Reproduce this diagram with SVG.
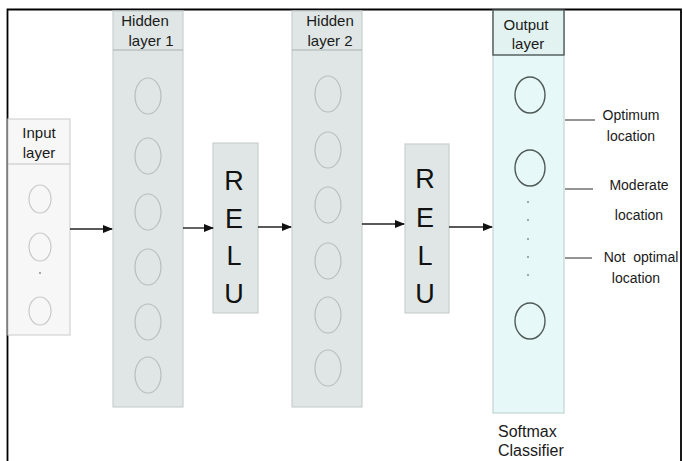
<svg xmlns="http://www.w3.org/2000/svg" width="683" height="461" viewBox="0 0 683 461">
  <style>
    text { font-family: "Liberation Sans", Arial, sans-serif; fill: #1a1a1a; }
    .hdr { font-size: 15px; text-anchor: middle; }
    .lbl { font-size: 14px; text-anchor: middle; }
    .relu { font-size: 27px; text-anchor: middle; fill: #111; }
    .frame { fill: none; stroke: #000; stroke-width: 1.8; }
    .in-box { fill: #f7f7f7; stroke: #d2d2d2; stroke-width: 1.2; }
    .in-node { fill: #f7f7f7; stroke: #c8c8c8; stroke-width: 1.2; }
    .hid-box { fill: #dfe6e5; stroke: #c9d0cf; stroke-width: 1.2; }
    .hid-sep { stroke: #a9b2b1; stroke-width: 1.2; }
    .hid-node { fill: #dfe6e5; stroke: #b6bfbe; stroke-width: 1.2; }
    .out-box { fill: #e6f8f7; stroke: #c3d6d3; stroke-width: 1.2; }
    .out-hdr { fill: #e2f2f1; stroke: #4d5856; stroke-width: 1.4; }
    .out-node { fill: #e6f8f7; stroke: #4f5a58; stroke-width: 1.4; }
    .dot { fill: #7a8584; }
    .edge { stroke: #222; stroke-width: 1.4; fill: none; marker-end: url(#head); }
    .tick { stroke: #666; stroke-width: 1.4; }
  </style>
  <defs>
    <marker id="head" markerWidth="10" markerHeight="8" refX="9" refY="4" orient="auto" markerUnits="userSpaceOnUse">
      <path d="M0,0 L10,4 L0,8 Z" fill="#111"/>
    </marker>
  </defs>

  <rect width="683" height="461" fill="#fff"/>
  <!-- outer frame (open at the bottom) -->
  <path class="frame" d="M7.5,461 V9.5 H681 V461"/>

  <!-- input layer -->
  <g id="input-layer">
    <rect class="in-box" x="8" y="119" width="62" height="216"/>
    <line x1="8" y1="164" x2="70" y2="164" stroke="#c4c4c4" stroke-width="1.2"/>
    <text class="hdr" x="39" y="138">Input</text>
    <text class="hdr" x="39" y="158">layer</text>
    <ellipse class="in-node" cx="40" cy="199" rx="11" ry="14"/>
    <ellipse class="in-node" cx="40" cy="247" rx="11" ry="14"/>
    <circle class="dot" cx="40" cy="273" r="0.9"/>
    <ellipse class="in-node" cx="40" cy="311" rx="11" ry="14"/>
  </g>

  <!-- hidden layer 1 -->
  <g id="hidden-layer-1">
    <rect class="hid-box" x="113" y="11" width="70" height="396"/>
    <line class="hid-sep" x1="113" y1="50" x2="183" y2="50"/>
    <text class="hdr" x="145" y="26">Hidden</text>
    <text class="hdr" x="151" y="46">layer 1</text>
    <ellipse class="hid-node" cx="148" cy="96" rx="13" ry="18"/>
    <ellipse class="hid-node" cx="148" cy="156" rx="13" ry="18"/>
    <ellipse class="hid-node" cx="148" cy="212" rx="13" ry="18"/>
    <ellipse class="hid-node" cx="148" cy="267" rx="13" ry="18"/>
    <ellipse class="hid-node" cx="148" cy="322" rx="13" ry="18"/>
    <ellipse class="hid-node" cx="148" cy="375" rx="13" ry="18"/>
  </g>

  <!-- activation 1 -->
  <g id="relu-1">
    <rect class="hid-box" x="213" y="143" width="45" height="170"/>
    <text class="relu" x="234" y="190">R</text>
    <text class="relu" x="234" y="228">E</text>
    <text class="relu" x="234" y="265">L</text>
    <text class="relu" x="234" y="303">U</text>
  </g>

  <!-- hidden layer 2 -->
  <g id="hidden-layer-2">
    <rect class="hid-box" x="292" y="11" width="70" height="396"/>
    <line class="hid-sep" x1="292" y1="50" x2="362" y2="50"/>
    <text class="hdr" x="330" y="26">Hidden</text>
    <text class="hdr" x="330" y="46">layer 2</text>
    <ellipse class="hid-node" cx="328" cy="94" rx="13" ry="18"/>
    <ellipse class="hid-node" cx="328" cy="150" rx="13" ry="18"/>
    <ellipse class="hid-node" cx="328" cy="205" rx="13" ry="18"/>
    <ellipse class="hid-node" cx="328" cy="261" rx="13" ry="18"/>
    <ellipse class="hid-node" cx="328" cy="315" rx="13" ry="18"/>
    <ellipse class="hid-node" cx="328" cy="368" rx="13" ry="18"/>
  </g>

  <!-- activation 2 -->
  <g id="relu-2">
    <rect class="hid-box" x="405" y="144" width="44" height="169"/>
    <text class="relu" x="425" y="188">R</text>
    <text class="relu" x="425" y="227">E</text>
    <text class="relu" x="425" y="265">L</text>
    <text class="relu" x="425" y="303">U</text>
  </g>

  <!-- output layer -->
  <g id="output-layer">
    <rect class="out-box" x="493" y="11" width="71" height="402"/>
    <rect class="out-hdr" x="493" y="10" width="71" height="45"/>
    <text class="hdr" x="526" y="30">Output</text>
    <text class="hdr" x="528" y="49">layer</text>
    <ellipse class="out-node" cx="530" cy="95" rx="15" ry="18"/>
    <ellipse class="out-node" cx="530" cy="168" rx="15" ry="18"/>
    <circle class="dot" cx="528" cy="202" r="0.9"/>
    <circle class="dot" cx="528" cy="220" r="0.9"/>
    <circle class="dot" cx="528" cy="239" r="0.9"/>
    <circle class="dot" cx="528" cy="257" r="0.9"/>
    <circle class="dot" cx="528" cy="275" r="0.9"/>
    <ellipse class="out-node" cx="530" cy="321" rx="15" ry="18"/>
    <text x="498" y="437" style="font-size:16px">Softmax</text>
    <text x="498" y="456" style="font-size:16px">Classifier</text>
  </g>

  <!-- class labels -->
  <g id="class-labels">
    <line class="tick" x1="565" y1="120" x2="595" y2="120"/>
    <text class="lbl" x="631" y="120">Optimum</text>
    <text class="lbl" x="631" y="141">location</text>
    <line class="tick" x1="565" y1="189" x2="593" y2="189"/>
    <text class="lbl" x="639" y="190">Moderate</text>
    <text class="lbl" x="639" y="220">location</text>
    <line class="tick" x1="565" y1="258" x2="592" y2="258"/>
    <text class="lbl" x="641" y="262" xml:space="preserve">Not  optimal</text>
    <text class="lbl" x="636" y="283">location</text>
  </g>

  <!-- connectors -->
  <g id="connectors">
    <line class="edge" x1="70" y1="229" x2="112" y2="229"/>
    <line class="edge" x1="183" y1="228" x2="213" y2="228"/>
    <line class="edge" x1="258" y1="227" x2="291" y2="227"/>
    <line class="edge" x1="362" y1="224" x2="404" y2="224"/>
    <line class="edge" x1="449" y1="227" x2="492" y2="227"/>
  </g>
</svg>
